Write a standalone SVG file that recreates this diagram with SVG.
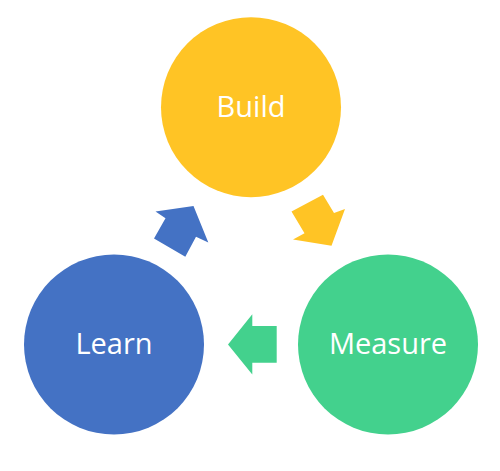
<svg xmlns="http://www.w3.org/2000/svg" width="500" height="471" viewBox="0 0 500 471">
<style>
.lbl{font-family:"Open Sans","Liberation Sans",sans-serif;font-size:29px;fill:#fff;text-anchor:middle}
</style>
<rect width="500" height="471" fill="#fff"/>
<g id="build"><circle cx="251" cy="107.2" r="90" fill="#FFC425"/><text class="lbl" x="251" y="117">Build</text></g>
<g id="measure"><circle cx="388" cy="344.5" r="90" fill="#43D18D"/><text class="lbl" x="388" y="353.5">Measure</text></g>
<g id="learn"><circle cx="114" cy="344.5" r="90" fill="#4472C4"/><text class="lbl" x="114" y="353.5">Learn</text></g>
<g id="connectors">
<polygon fill="#FFC425" points="291.5,211.5 323,194.7 334,213 345,209 331.5,245.7 293,239.5 304.5,233.3"/>
<polygon fill="#43D18D" points="276.7,326 252.3,326 252.3,314.3 228,344.4 252.3,374.5 252.3,362.7 276.7,362.7"/>
<polygon fill="#4472C4" points="154,238.5 185.3,256.7 196,236.7 208.3,242.5 193.5,206 155.5,211.5 165.5,218.2"/>
</g>
</svg>
